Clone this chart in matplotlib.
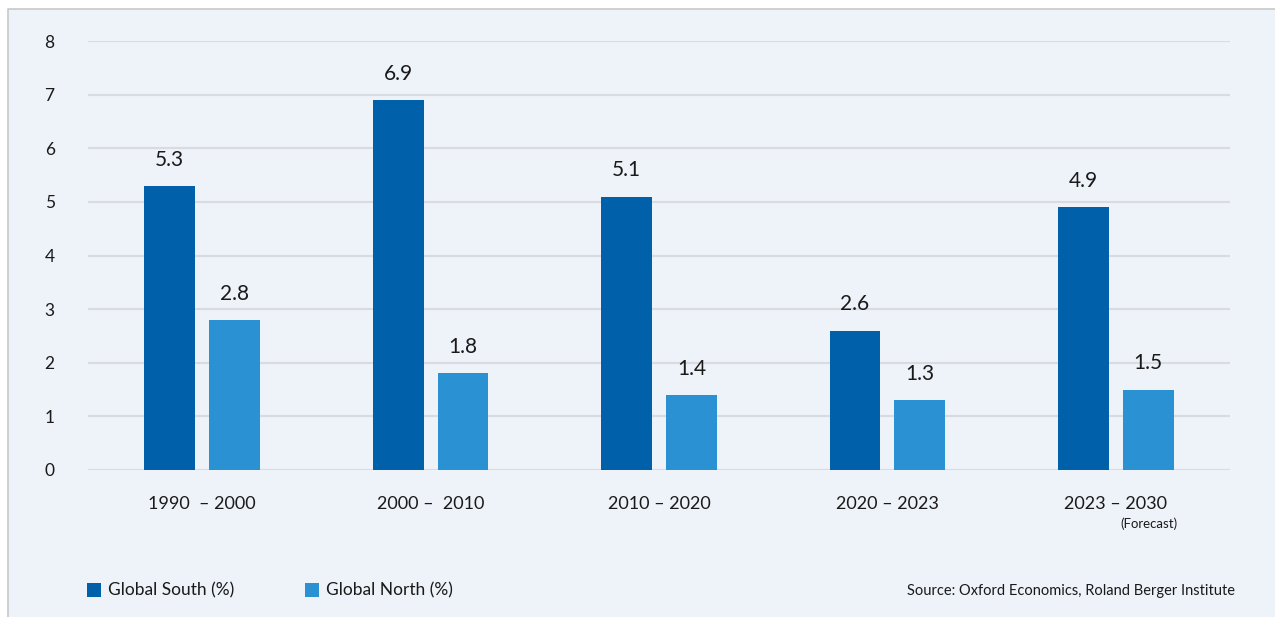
import matplotlib.pyplot as plt
import numpy as np
from matplotlib.patches import Rectangle
from matplotlib.lines import Line2D

periods = ['1990  – 2000', '2000 –  2010', '2010 – 2020', '2020 – 2023', '2023 – 2030']
south = [5.3, 6.9, 5.1, 2.6, 4.9]
north = [2.8, 1.8, 1.4, 1.3, 1.5]
yticks = [0, 1, 2, 3, 4, 5, 6, 7, 8]

dark = '#0060A9'
light = '#2A91D3'
panel = '#EEF2F9'
txt = '#1a1a1a'

plt.rcParams['font.family'] = ['Lato', 'DejaVu Sans']

fig = plt.figure(figsize=(12.75, 6.17), dpi=100)
fig.patch.set_facecolor('white')
# light panel behind everything, with a thin border on the left and top only
px0, py1 = 8 / 1275, 1 - 9 / 617
fig.patches.append(Rectangle((px0, 0), 1 - px0, py1, transform=fig.transFigure,
                             facecolor=panel, edgecolor='none', zorder=-1))
fig.lines.append(Line2D([px0, px0, 1], [0, py1, py1], transform=fig.transFigure,
                        color='#C8C8C8', linewidth=1.2))

ax = fig.add_axes([88 / 1275, 1 - 470 / 617, (1230 - 88) / 1275, (470 - 41) / 617])
ax.set_facecolor('none')

x = np.arange(len(periods))
w = 0.223
off = 0.142
b1 = ax.bar(x - off, south, w, color=dark, zorder=3)
b2 = ax.bar(x + off, north, w, color=light, zorder=3)

for bars, vals in [(b1, south), (b2, north)]:
    for b, v in zip(bars, vals):
        ax.text(b.get_x() + b.get_width() / 2, v + 0.3, f'{v:.1f}',
                ha='center', va='bottom', fontsize=15, color=txt)

ax.set_xlim(-0.5, len(periods) - 0.5)
ax.set_ylim(0, 8)
ax.set_yticks(yticks)
ax.set_yticklabels([str(t) for t in yticks], fontsize=12.5, color=txt)
ax.set_xticks(x)
ax.set_xticklabels(periods, fontsize=13, color=txt)
ax.tick_params(axis='y', length=0, pad=24)
ax.tick_params(axis='x', length=0, pad=19)
ax.grid(axis='y', color='#D8DBE0', linewidth=1.5, zorder=0)
for s in ax.spines.values():
    s.set_visible(False)

fig.text(1149 / 1275, 1 - 524 / 617, '(Forecast)', ha='center', va='center',
         fontsize=9.5, color=txt)

# legend
for xs, label, c in [(87, 'Global South (%)', dark), (305, 'Global North (%)', light)]:
    fig.patches.append(Rectangle((xs / 1275, 1 - 597 / 617), 14 / 1275, 14 / 617,
                                 transform=fig.transFigure, facecolor=c, edgecolor='none'))
    fig.text((xs + 21) / 1275, 1 - 590 / 617, label, ha='left', va='center',
             fontsize=12.5, color=txt)

fig.text(1235 / 1275, 1 - 591 / 617, 'Source: Oxford Economics, Roland Berger Institute',
         ha='right', va='center', fontsize=10.5, color=txt)

fig.savefig('out.png', dpi=100, facecolor='white')
